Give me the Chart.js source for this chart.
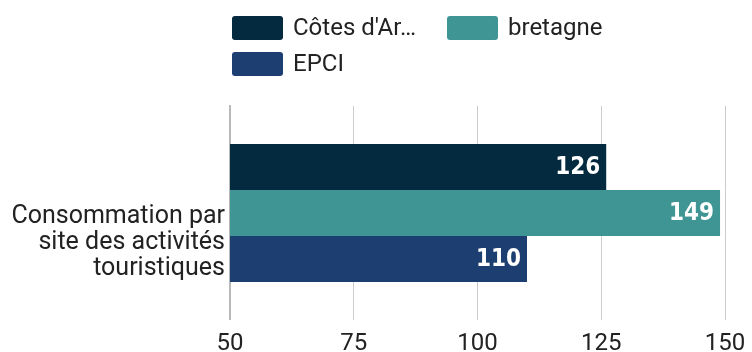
<!DOCTYPE html>
<html>
<head>
<meta charset="utf-8">
<script src="https://cdn.jsdelivr.net/npm/chart.js@4"></script>
<style>
  html, body { margin: 0; padding: 0; background: #fff; }
  #wrap { width: 752px; height: 352px; }
</style>
</head>
<body>
<div id="wrap"><canvas id="tourismChart"></canvas></div>
<script>
// data
const categories = [['Consommation par', 'site des activités', 'touristiques']];
const seriesNames = ["Côtes d'Armor", 'bretagne', 'EPCI'];
const cotesArmor = [126];
const bretagne = [149];
const epci = [110];
const xTicks = [50, 75, 100, 125, 150];

const colors = ['#032a3e', '#3e9593', '#1d3e70'];
const baseFont = 'Roboto, "Noto Sans", sans-serif';

// legend in two columns above the plot, long names cut with an ellipsis
const columnLegend = {
  id: 'columnLegend',
  afterDraw(chart) {
    const ctx = chart.ctx;
    const cols = [232, 447];
    const rows = [28, 64];
    const maxText = 125;
    ctx.save();
    ctx.font = '24px ' + baseFont;
    ctx.textBaseline = 'middle';
    ctx.textAlign = 'left';
    chart.data.datasets.forEach((ds, i) => {
      const x = cols[i % 2];
      const y = rows[Math.floor(i / 2)];
      ctx.fillStyle = ds.backgroundColor;
      ctx.beginPath();
      ctx.roundRect(x, y - 12, 51, 24, 3);
      ctx.fill();
      let text = ds.label;
      if (ctx.measureText(text).width > maxText) {
        while (text.length > 1 && ctx.measureText(text + '…').width > maxText) {
          text = text.slice(0, -1);
        }
        text += '…';
      }
      ctx.fillStyle = '#222';
      ctx.fillText(text, x + 61, y + 1);
    });
    ctx.restore();
  }
};

// value written inside the end of each bar
const barValues = {
  id: 'barValues',
  afterDatasetsDraw(chart) {
    const ctx = chart.ctx;
    ctx.save();
    ctx.font = 'bold 24px "DejaVu Sans Condensed", "DejaVu Sans", sans-serif';
    ctx.fillStyle = '#fff';
    ctx.textAlign = 'right';
    ctx.textBaseline = 'middle';
    chart.data.datasets.forEach((ds, i) => {
      chart.getDatasetMeta(i).data.forEach((bar, j) => {
        ctx.fillText(String(ds.data[j]), bar.x - 6, bar.y + 1);
      });
    });
    ctx.restore();
  }
};

const values = [cotesArmor, bretagne, epci];

new Chart(document.getElementById('tourismChart'), {
  type: 'bar',
  data: {
    labels: categories,
    datasets: seriesNames.map((name, i) => ({
      label: name,
      data: values[i],
      backgroundColor: colors[i],
      borderWidth: 0,
      categoryPercentage: 0.645,
      barPercentage: 1
    }))
  },
  options: {
    indexAxis: 'y',
    responsive: true,
    maintainAspectRatio: false,
    animation: false,
    // negative bottom padding lets the x labels sit low without squeezing the plot
    layout: { autoPadding: false, padding: { top: 106, right: 27, bottom: -16, left: 0 } },
    plugins: {
      legend: { display: false },
      tooltip: { enabled: false }
    },
    scales: {
      x: {
        min: xTicks[0],
        max: xTicks[xTicks.length - 1],
        afterBuildTicks(scale) {
          scale.ticks = xTicks.map(v => ({ value: v }));
        },
        afterFit(scale) {
          // let the end labels hang past the plot edges
          scale.paddingLeft = 0;
          scale.paddingRight = 0;
        },
        grid: { color: '#cccccc', drawTicks: false },
        border: { display: false },
        ticks: {
          padding: 13,
          color: '#222',
          maxRotation: 0,
          font: { family: baseFont, size: 24, lineHeight: 0.917 }
        }
      },
      y: {
        grid: { display: false, drawTicks: false },
        border: { display: true, color: '#b8b8b8', width: 2 },
        afterFit(scale) {
          scale.width = 230;
          scale.paddingTop = 0;
          scale.paddingBottom = 0;
        },
        ticks: {
          padding: 5,
          labelOffset: 30,
          color: '#222',
          font: { family: baseFont, size: 25, lineHeight: 1.05 }
        }
      }
    }
  },
  plugins: [columnLegend, barValues]
});
</script>
</body>
</html>
